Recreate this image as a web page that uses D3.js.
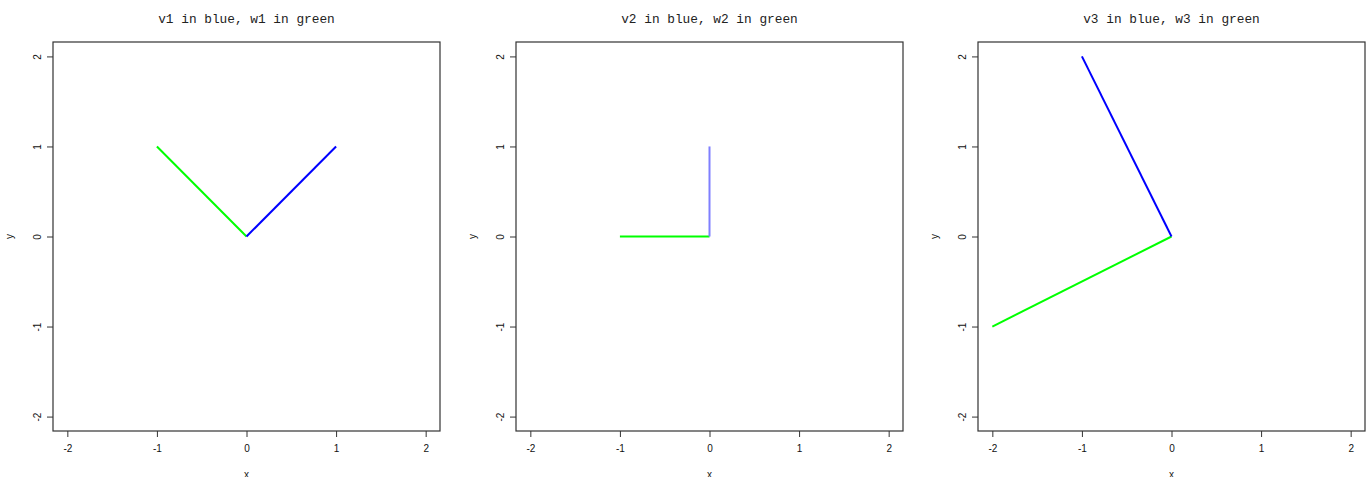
<!DOCTYPE html>
<html>
<head>
<meta charset="utf-8">
<script src="https://cdn.jsdelivr.net/npm/d3@7"></script>
<style>
  body { margin: 0; background: #fff; }
  .tick text { font-family: "Liberation Sans", Arial, sans-serif; font-size: 10px; fill: #111; }
</style>
</head>
<body>
<script>
var width = 1368,
    height = 477

// one entry per panel
var titles = ['v1 in blue, w1 in green', 'v2 in blue, w2 in green', 'v3 in blue, w3 in green']
var vX = [1, 0, -1], vY = [1, 1, 2]
var wX = [-1, -1, -2], wY = [1, 0, -1]
var ticks = [-2, -1, 0, 1, 2]

var panelLeft = [53, 516, 978],
    boxW = 387,
    boxTop = 42,
    boxH = 389

var svg = d3.select('body').append('svg')
    .attr('width', width)
    .attr('height', height)

titles.forEach(function(t, i) {
  var x = d3.scaleLinear().domain([-2.16, 2.16]).range([0, boxW])
  var y = d3.scaleLinear().domain([-2.16, 2.16]).range([boxH, 0])

  var g = svg.append('g').attr('transform', 'translate(' + panelLeft[i] + ',' + boxTop + ')')

  g.append('text')
      .attr('x', boxW / 2).attr('y', -19)
      .attr('text-anchor', 'middle')
      .style('font-family', '"Liberation Mono", "Courier New", monospace')
      .style('font-size', '12.8px')
      .attr('fill', '#222')
      .text(t)

  var xa = g.append('g').attr('transform', 'translate(0,' + boxH + ')')
      .call(d3.axisBottom(x).tickValues(ticks).tickSize(6).tickPadding(8).tickFormat(String))
  var ya = g.append('g')
      .call(d3.axisLeft(y).tickValues(ticks).tickSize(6).tickPadding(9).tickFormat(String))
  ;[xa, ya].forEach(function(a) {
    a.select('.domain').remove()
    a.selectAll('.tick line').attr('stroke', '#333')
  })
  ya.selectAll('.tick text')
      .attr('text-anchor', 'middle')
      .attr('transform', 'translate(-16,0) rotate(-90)')
      .attr('x', 0).attr('dy', '0.35em')

  g.append('rect')
      .attr('width', boxW).attr('height', boxH)
      .attr('fill', 'none').attr('stroke', '#333').attr('stroke-width', 1.2)

  g.append('text')
      .attr('x', boxW / 2).attr('y', boxH + 47)
      .attr('text-anchor', 'middle')
      .style('font-family', '"Liberation Sans", Arial, sans-serif')
      .style('font-size', '10px').attr('fill', '#222')
      .text('x')
  g.append('text')
      .attr('transform', 'translate(-40,' + boxH / 2 + ') rotate(-90)')
      .attr('text-anchor', 'middle')
      .style('font-family', '"Liberation Sans", Arial, sans-serif')
      .style('font-size', '10px').attr('fill', '#222')
      .text('y')

  g.append('line')
      .attr('x1', x(0)).attr('y1', y(0))
      .attr('x2', x(wX[i])).attr('y2', y(wY[i]))
      .attr('stroke', '#00ff00').attr('stroke-width', 2)
  // the vertical v2 falls between pixels in the reference and looks pale
  g.append('line')
      .attr('x1', x(0)).attr('y1', y(0))
      .attr('x2', x(vX[i])).attr('y2', y(vY[i]))
      .attr('stroke', i == 1 ? '#7f7fff' : '#0000ff').attr('stroke-width', 2)
})
</script>
</body>
</html>
